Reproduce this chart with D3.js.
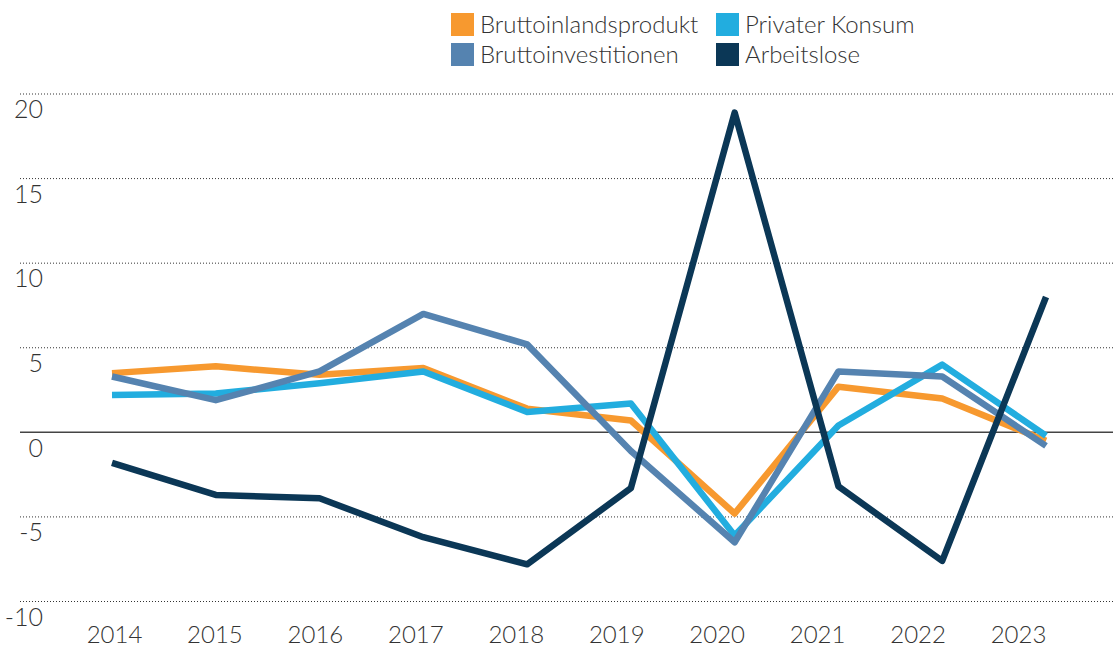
<!DOCTYPE html>
<html>
<head>
<meta charset="utf-8">
<script src="https://cdn.jsdelivr.net/npm/d3@7"></script>
<style>
  html, body { margin: 0; padding: 0; background: #fff; }
  svg { display: block; font-family: "Lato", "Open Sans", sans-serif; font-weight: 300; }
</style>
</head>
<body>
<svg id="chart" width="1113" height="647"></svg>
<script>
// Jährliche Veränderung in Prozent
const years = [2014, 2015, 2016, 2017, 2018, 2019, 2020, 2021, 2022, 2023];
const bip        = [3.5, 3.9, 3.4, 3.8, 1.4, 0.7, -4.8, 2.7, 2.0, -0.5];
const konsum     = [2.2, 2.3, 2.9, 3.6, 1.2, 1.7, -6.1, 0.4, 4.0, -0.2];
const investition= [3.3, 1.9, 3.6, 7.0, 5.2, -1.1, -6.5, 3.6, 3.3, -0.8];
const arbeitslose= [-1.8, -3.7, -3.9, -6.2, -7.8, -3.3, 18.9, -3.2, -7.6, 8.0];
const yTicks = [-10, -5, 0, 5, 10, 15, 20];

const series = [
  { name: "Bruttoinlandsprodukt", values: bip,         color: "#f7992f" },
  { name: "Privater Konsum",      values: konsum,      color: "#22addf" },
  { name: "Bruttoinvestitionen",  values: investition, color: "#5583b0" },
  { name: "Arbeitslose",          values: arbeitslose, color: "#0b3756" }
];

const svg = d3.select("#chart");

const x = d3.scalePoint().domain(years).range([112, 1046]);
const xLabel = d3.scalePoint().domain(years).range([114, 1018]);
const y = d3.scaleLinear().domain([-10, 20]).range([601.5, 94]);

// Gitterlinien
const grid = svg.append("g");
grid.selectAll("line")
  .data(yTicks.filter(t => t !== 0))
  .join("line")
  .attr("x1", 20).attr("x2", 1113)
  .attr("y1", d => y(d)).attr("y2", d => y(d))
  .attr("stroke", "#333")
  .attr("stroke-width", 1)
  .attr("stroke-dasharray", "1,2");

grid.append("line")
  .attr("x1", 20).attr("x2", 1113)
  .attr("y1", y(0)).attr("y2", y(0))
  .attr("stroke", "#444")
  .attr("stroke-width", 1.5);

// Y-Achse
const yAxis = d3.axisLeft(y).tickValues(yTicks).tickSize(0).tickFormat(d => String(d));
const yg = svg.append("g").attr("transform", "translate(43,0)").call(yAxis);
yg.select(".domain").remove();
yg.selectAll("text")
  .attr("x", 0)
  .attr("dy", "0.95em")
  .attr("fill", "#333")
  .style("font-size", "25px")
  .style("font-family", "Lato, 'Open Sans', sans-serif")
  .style("font-weight", 300);

// X-Achse
const xAxis = d3.axisBottom(xLabel).tickSize(0).tickFormat(d => String(d));
const xg = svg.append("g").attr("transform", "translate(0,620)").call(xAxis);
xg.select(".domain").remove();
xg.selectAll("text")
  .attr("y", 0)
  .attr("dy", "0.95em")
  .attr("fill", "#333")
  .style("font-size", "24px")
  .style("font-family", "Lato, 'Open Sans', sans-serif")
  .style("font-weight", 300);

// Linien
const line = d3.line()
  .x((d, i) => x(years[i]))
  .y(d => y(d));

svg.append("g").selectAll("path")
  .data(series)
  .join("path")
  .attr("d", d => line(d.values))
  .attr("fill", "none")
  .attr("stroke", d => d.color)
  .attr("stroke-width", 6.5)
  .attr("stroke-linejoin", "round")
  .attr("stroke-linecap", "butt");

// Legende
const legendItems = [
  { s: series[0], x: 451, y: 13 },
  { s: series[2], x: 451, y: 43 },
  { s: series[1], x: 716, y: 13 },
  { s: series[3], x: 716, y: 43 }
];
const lg = svg.append("g");
const item = lg.selectAll("g").data(legendItems).join("g")
  .attr("transform", d => `translate(${d.x},${d.y})`);
item.append("rect")
  .attr("width", 23).attr("height", 23)
  .attr("fill", d => d.s.color);
item.append("text")
  .attr("x", 29).attr("y", 20)
  .attr("fill", "#333")
  .style("font-size", "24px")
  .text(d => d.s.name);
</script>
</body>
</html>
